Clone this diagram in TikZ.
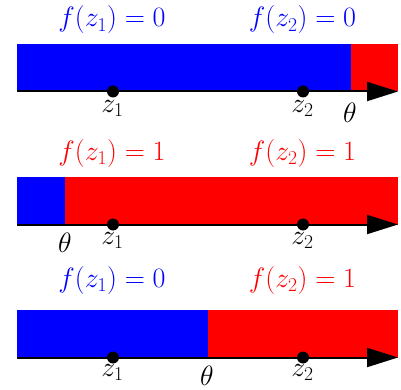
\documentclass[tikz,border=0pt]{standalone}
\usepackage{fix-cm}
\usetikzlibrary{arrows.meta}
\definecolor{pblue}{RGB}{0,0,255}
\definecolor{pred}{RGB}{255,0,0}
\begin{document}
\begin{tikzpicture}[x=1pt,y=-1pt,
  font=\fontsize{28}{34}\selectfont,
  lbl/.style={anchor=base,inner sep=0pt},
  dotnode/.style={circle,fill=black,inner sep=0pt,minimum size=12pt},
  axisline/.style={line width=2pt,-{Triangle[length=31pt,width=19pt]}}]
\useasboundingbox (0,0) rectangle (401,390);
% panel 1
\fill[pblue] (17,44) rectangle (351,91.5);
\fill[pred] (351,44) rectangle (398,91.5);
\coordinate (a1s) at (17,91.5);
\coordinate (a1e) at (398,91.5);
\draw[axisline] (a1s) -- (a1e);
\node[dotnode] (d1a) at (113,91.5) {};
\node[dotnode] (d1b) at (303,91.5) {};
\node[lbl,pblue] (f1a) at (112,27) {$f(z_1)=0$};
\node[lbl,pblue] (f1b) at (302.5,27) {$f(z_2)=0$};
\node[lbl] (z1a) at (112.5,112.7) {$z_1$};
\node[lbl] (z1b) at (302.5,112.7) {$z_2$};
\node[lbl] (t1) at (350,122.5) {$\theta$};
% panel 2
\fill[pblue] (17,177) rectangle (65,224.5);
\fill[pred] (65,177) rectangle (398,224.5);
\coordinate (a2s) at (17,224.5);
\coordinate (a2e) at (398,224.5);
\draw[axisline] (a2s) -- (a2e);
\node[dotnode] (d2a) at (113,224.5) {};
\node[dotnode] (d2b) at (303,224.5) {};
\node[lbl,pred] (f2a) at (112,160.5) {$f(z_1)=1$};
\node[lbl,pred] (f2b) at (302.5,160.5) {$f(z_2)=1$};
\node[lbl] (z2a) at (112.5,244.5) {$z_1$};
\node[lbl] (z2b) at (302.5,244.5) {$z_2$};
\node[lbl] (t2) at (65,252) {$\theta$};
% panel 3
\fill[pblue] (17,310) rectangle (208,357.5);
\fill[pred] (208,310) rectangle (398,357.5);
\coordinate (a3s) at (17,357.5);
\coordinate (a3e) at (398,357.5);
\draw[axisline] (a3s) -- (a3e);
\node[dotnode] (d3a) at (113,357.5) {};
\node[dotnode] (d3b) at (303,357.5) {};
\node[lbl,pblue] (f3a) at (112,287) {$f(z_1)=0$};
\node[lbl,pred] (f3b) at (302.5,287) {$f(z_2)=1$};
\node[lbl] (z3a) at (112.5,376.5) {$z_1$};
\node[lbl] (z3b) at (302.5,376.5) {$z_2$};
\node[lbl] (t3) at (207,385.5) {$\theta$};
\end{tikzpicture}
\end{document}
